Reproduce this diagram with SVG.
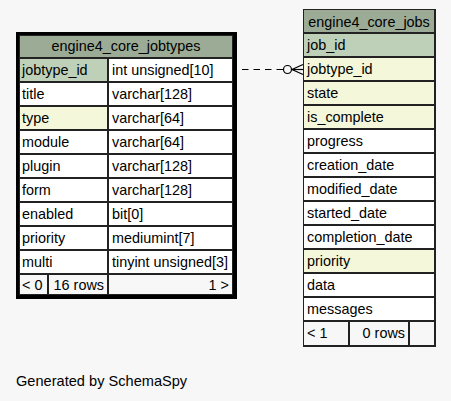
<svg xmlns="http://www.w3.org/2000/svg" width="451" height="401" viewBox="0 0 451 401">
  <style>
    text { font-family: "Liberation Sans", Arial, sans-serif; font-size: 14.4px; fill: #000; }
    .cell { stroke: #222; stroke-width: 1; }
    .head { fill: #9bab96; }
    .pk { fill: #bed1b8; }
    .idx { fill: #f4f7da; }
    .body { fill: #ffffff; }
    .foot { fill: #f7f7f7; }
    .c { text-anchor: middle; }
    .r { text-anchor: end; }
    .rel { fill: none; stroke: #000; stroke-width: 1.2; }
  </style>
  <rect width="451" height="401" fill="#f7f7f7"/>

  <!-- connectors -->
  <g id="connectors">
    <line class="rel" x1="242" y1="69.5" x2="283.5" y2="69.5" stroke-dasharray="6.5,5"/>
    <circle class="rel" cx="287.5" cy="69.5" r="4" fill="#f7f7f7"/>
    <polyline class="rel" stroke-width="2" points="303,64.5 292,69.5 303,74.5"/>
    <line class="rel" stroke-width="1.6" x1="292" y1="69.5" x2="303" y2="69.5"/>
  </g>

  <!-- engine4_core_jobtypes -->
  <g id="engine4_core_jobtypes">
    <rect x="16" y="32" width="221" height="267" fill="#000"/>
    <rect class="cell head" x="19.5" y="35.5" width="213" height="22"/>
    <text class="c" x="126" y="51">engine4_core_jobtypes</text>

    <rect class="cell pk" x="19.5" y="58.5" width="88" height="23"/>
    <rect class="cell body" x="108.5" y="58.5" width="124" height="23"/>
    <text x="22" y="75">jobtype_id</text><text x="112" y="75">int unsigned[10]</text>

    <rect class="cell body" x="19.5" y="82.5" width="88" height="23"/>
    <rect class="cell body" x="108.5" y="82.5" width="124" height="23"/>
    <text x="22" y="99">title</text><text x="112" y="99">varchar[128]</text>

    <rect class="cell idx" x="19.5" y="106.5" width="88" height="23"/>
    <rect class="cell body" x="108.5" y="106.5" width="124" height="23"/>
    <text x="22" y="123">type</text><text x="112" y="123">varchar[64]</text>

    <rect class="cell body" x="19.5" y="130.5" width="88" height="23"/>
    <rect class="cell body" x="108.5" y="130.5" width="124" height="23"/>
    <text x="22" y="147">module</text><text x="112" y="147">varchar[64]</text>

    <rect class="cell body" x="19.5" y="154.5" width="88" height="23"/>
    <rect class="cell body" x="108.5" y="154.5" width="124" height="23"/>
    <text x="22" y="171">plugin</text><text x="112" y="171">varchar[128]</text>

    <rect class="cell body" x="19.5" y="178.5" width="88" height="23"/>
    <rect class="cell body" x="108.5" y="178.5" width="124" height="23"/>
    <text x="22" y="195">form</text><text x="112" y="195">varchar[128]</text>

    <rect class="cell body" x="19.5" y="202.5" width="88" height="23"/>
    <rect class="cell body" x="108.5" y="202.5" width="124" height="23"/>
    <text x="22" y="219">enabled</text><text x="112" y="219">bit[0]</text>

    <rect class="cell body" x="19.5" y="226.5" width="88" height="23"/>
    <rect class="cell body" x="108.5" y="226.5" width="124" height="23"/>
    <text x="22" y="243">priority</text><text x="112" y="243">mediumint[7]</text>

    <rect class="cell body" x="19.5" y="250.5" width="88" height="23"/>
    <rect class="cell body" x="108.5" y="250.5" width="124" height="23"/>
    <text x="22" y="267">multi</text><text x="112" y="267">tinyint unsigned[3]</text>

    <rect class="cell foot" x="19.5" y="274.5" width="28" height="20"/>
    <rect class="cell foot" x="48.5" y="274.5" width="59" height="20"/>
    <rect class="cell foot" x="108.5" y="274.5" width="124" height="20"/>
    <text x="22" y="290">&lt; 0</text>
    <text class="r" x="104" y="290">16 rows</text>
    <text class="r" x="229" y="290">1 &gt;</text>
  </g>

  <!-- engine4_core_jobs -->
  <g id="engine4_core_jobs">
    <rect x="303" y="9" width="133" height="338" fill="#222"/>
    <rect class="cell head" x="303.5" y="9.5" width="131" height="23"/>
    <text class="c" x="369" y="27">engine4_core_jobs</text>

    <rect class="cell pk" x="303.5" y="33.5" width="131" height="23"/>
    <text x="307" y="50">job_id</text>
    <rect class="cell idx" x="303.5" y="57.5" width="131" height="23"/>
    <text x="307" y="74">jobtype_id</text>
    <rect class="cell idx" x="303.5" y="81.5" width="131" height="23"/>
    <text x="307" y="98">state</text>
    <rect class="cell idx" x="303.5" y="105.5" width="131" height="23"/>
    <text x="307" y="122">is_complete</text>
    <rect class="cell body" x="303.5" y="129.5" width="131" height="23"/>
    <text x="307" y="146">progress</text>
    <rect class="cell body" x="303.5" y="153.5" width="131" height="23"/>
    <text x="307" y="170">creation_date</text>
    <rect class="cell body" x="303.5" y="177.5" width="131" height="23"/>
    <text x="307" y="194">modified_date</text>
    <rect class="cell body" x="303.5" y="201.5" width="131" height="23"/>
    <text x="307" y="218">started_date</text>
    <rect class="cell body" x="303.5" y="225.5" width="131" height="23"/>
    <text x="307" y="242">completion_date</text>
    <rect class="cell idx" x="303.5" y="249.5" width="131" height="23"/>
    <text x="307" y="266">priority</text>
    <rect class="cell body" x="303.5" y="273.5" width="131" height="23"/>
    <text x="307" y="290">data</text>
    <rect class="cell body" x="303.5" y="297.5" width="131" height="23"/>
    <text x="307" y="314">messages</text>

    <rect class="cell foot" x="303.5" y="321.5" width="45" height="24"/>
    <rect class="cell foot" x="349.5" y="321.5" width="59" height="24"/>
    <rect class="cell foot" x="409.5" y="321.5" width="25" height="24"/>
    <text x="307" y="338">&lt; 1</text>
    <text class="r" x="405" y="338">0 rows</text>
  </g>

  <text x="16" y="386" style="font-size:14.6px">Generated by SchemaSpy</text>
</svg>
